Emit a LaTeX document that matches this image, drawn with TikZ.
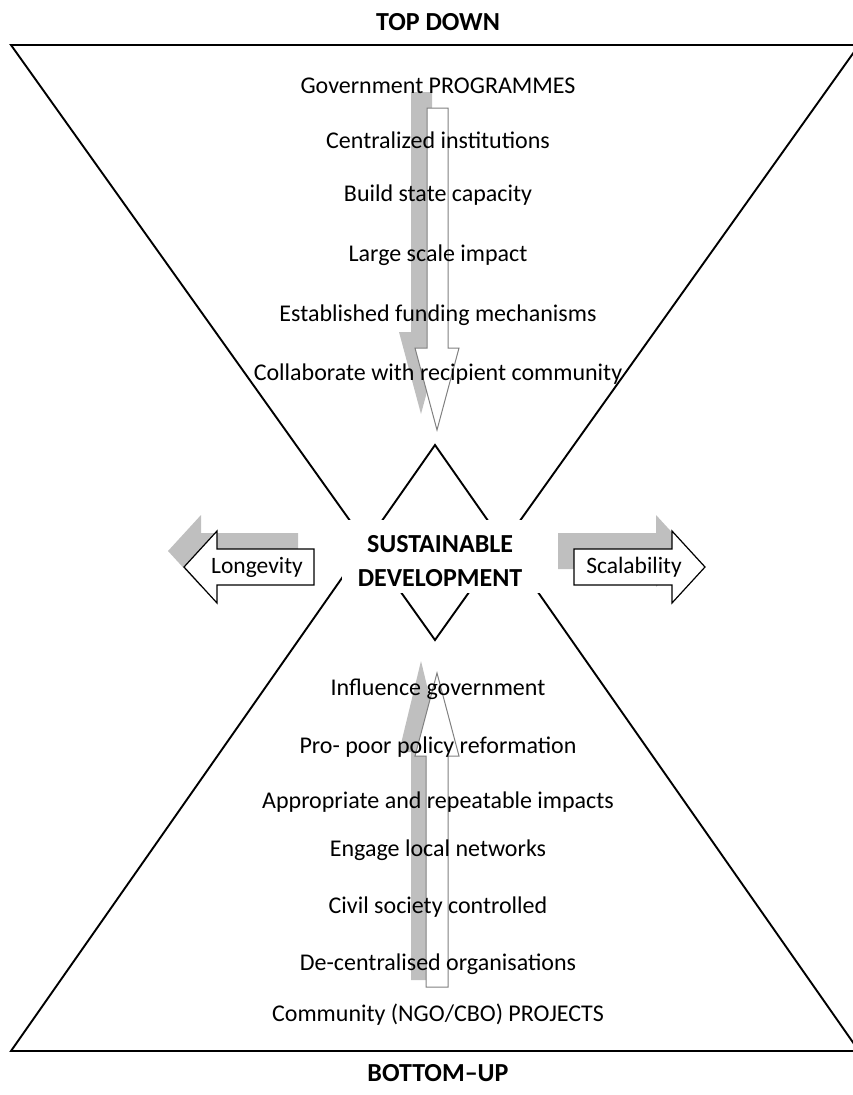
\documentclass[tikz,border=0pt]{standalone}
\usepackage{fontspec}
\setmainfont{Carlito}
\begin{document}
\begin{tikzpicture}[x=1pt,y=-1pt,
  edge/.style={line width=1.9pt,line join=miter},
  shade/.style={fill=black!25,draw=none},
  vbody/.style={fill=white,draw=black!50,line width=1pt,line join=miter},
  hbody/.style={fill=white,draw=black,line width=1.2pt,line join=miter},
  item/.style={anchor=base,inner sep=0pt,font=\fontsize{24}{28}\selectfont},
  head/.style={anchor=base,inner sep=0pt,font=\fontsize{26}{30}\selectfont\bfseries},
  side/.style={inner sep=0pt,font=\fontsize{23.5}{28}\selectfont}]
\useasboundingbox (0,0) rectangle (853,1095);
\begin{scope}
\clip (0,0) rectangle (853,1095);
% the two crossing triangles of the hourglass
\draw[edge] (11,45) -- (859,45) -- (435,640) -- cycle;
\draw[edge] (11,1051) -- (859,1051) -- (435,445) -- cycle;
\end{scope}
% white panel behind the central caption
\node[fill=white,minimum width=198pt,minimum height=73pt,inner sep=0pt] (hub) at (441,556.5) {};
\node[inner sep=0pt,align=center,font=\fontsize{26}{34}\selectfont\bfseries] (hubtext) at (440,561) {SUSTAINABLE\\DEVELOPMENT};
% downward arrow with its shadow
\fill[shade] (411,92) -- (432,92) -- (432,332) -- (443,332) -- (421,414) -- (399,332) -- (411,332) -- cycle;
\draw[vbody] (427,108) -- (448,108) -- (448,348) -- (459,348) -- (437,430) -- (415,348) -- (427,348) -- cycle;
% upward arrow with its shadow
\fill[shade] (411,980) -- (432,980) -- (432,752) -- (443,752) -- (421,661) -- (399,752) -- (411,752) -- cycle;
\draw[vbody] (426,987) -- (448,987) -- (448,756) -- (459,756) -- (437,673) -- (415,756) -- (426,756) -- cycle;
% left arrow
\fill[shade,shift={(-16,-16)}] (184,567) -- (217,531) -- (217,549) -- (314,549) -- (314,585) -- (217,585) -- (217,603) -- cycle;
\draw[hbody] (184,567) -- (217,531) -- (217,549) -- (314,549) -- (314,585) -- (217,585) -- (217,603) -- cycle;
\node[side] (longevity) at (257,567) {Longevity};
% right arrow
\fill[shade,shift={(-16,-16)}] (574,549) -- (672,549) -- (672,531) -- (705,567) -- (672,603) -- (672,585) -- (574,585) -- cycle;
\draw[hbody] (574,549) -- (672,549) -- (672,531) -- (705,567) -- (672,603) -- (672,585) -- (574,585) -- cycle;
\node[side] (scalability) at (634,567) {Scalability};
% headings
\node[head] (topdown) at (438,30) {TOP DOWN};
\node[head] (bottomup) at (438,1081) {BOTTOM–UP};
% top-down items
\node[item] (t1) at (438,93) {Government PROGRAMMES};
\node[item] (t2) at (438,148) {Centralized institutions};
\node[item] (t3) at (438,201) {Build state capacity};
\node[item] (t4) at (438,261) {Large scale impact};
\node[item] (t5) at (438,321) {Established funding mechanisms};
\node[item] (t6) at (438,380) {Collaborate with recipient community};
% bottom-up items
\node[item] (b1) at (438,695) {Influence government};
\node[item] (b2) at (438,753) {Pro- poor policy reformation};
\node[item] (b3) at (438,808) {Appropriate and repeatable impacts};
\node[item] (b4) at (438,856) {Engage local networks};
\node[item] (b5) at (438,913) {Civil society controlled};
\node[item] (b6) at (438,970) {De-centralised organisations};
\node[item] (b7) at (438,1021) {Community (NGO/CBO) PROJECTS};
\end{tikzpicture}
\end{document}
